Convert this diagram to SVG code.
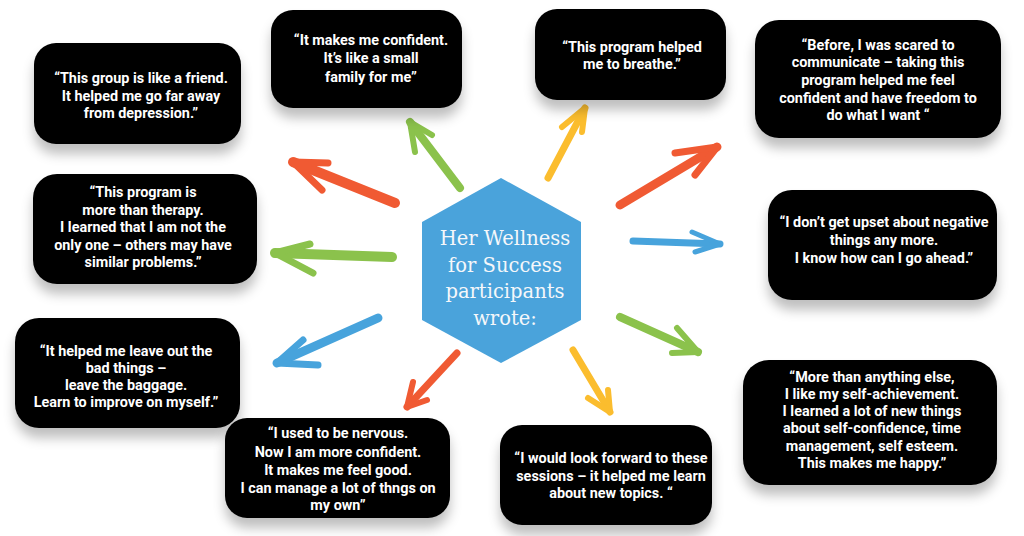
<svg xmlns="http://www.w3.org/2000/svg" width="1024" height="536" viewBox="0 0 1024 536">
<defs>
<filter id="sh" x="-20%" y="-20%" width="140%" height="160%">
<feGaussianBlur in="SourceAlpha" stdDeviation="6"/>
<feOffset dx="0" dy="10" result="b"/>
<feFlood flood-color="#000" flood-opacity="0.25"/>
<feComposite in2="b" operator="in"/>
<feMerge><feMergeNode/><feMergeNode in="SourceGraphic"/></feMerge>
</filter>
</defs>
<style>
.box{fill:#000;filter:url(#sh)}
.q{font-family:Roboto,"Liberation Sans",sans-serif;font-weight:700;font-size:15.5px;fill:#fff;text-anchor:middle}
.hub{fill:#4aa3db}
.ht{font-family:"DejaVu Serif","Liberation Serif",serif;font-size:19.5px;fill:#f5f7fa;text-anchor:middle}
.a{fill:none;stroke-linecap:round;stroke-linejoin:round}
.r{stroke:#f05a33}.g{stroke:#8bc24c}.y{stroke:#fbbd2e}.b{stroke:#47a3dc}
</style>
<rect width="1024" height="536" fill="#fff"/>
<g id="connectors">
<path class="a g" stroke-width="8" d="M460 188 L410 122"/><path class="a g" stroke-width="6" d="M415 152 L410 122 L432 135"/>
<path class="a y" stroke-width="7" d="M548 178 L585 108"/><path class="a y" stroke-width="6" d="M562 127 L585 108 L582 132"/>
<path class="a r" stroke-width="9" d="M620 205 L717 147"/><path class="a r" stroke-width="7" d="M675 153 L717 147 L695 175"/>
<path class="a b" stroke-width="7" d="M633 241 L720 244"/><path class="a b" stroke-width="5" d="M692 232 L720 244 L695 252"/>
<path class="a g" stroke-width="8" d="M620 317 L698 352"/><path class="a g" stroke-width="6" d="M677 328 L698 352 L672 353"/>
<path class="a y" stroke-width="7" d="M573 350 L610 412"/><path class="a y" stroke-width="6" d="M608 390 L610 412 L588 398"/>
<path class="a r" stroke-width="7" d="M457 353 L407 407"/><path class="a r" stroke-width="6" d="M413 382 L407 407 L427 400"/>
<path class="a b" stroke-width="9" d="M378 318 L277 363"/><path class="a b" stroke-width="7" d="M303 340 L277 363 L318 365"/>
<path class="a g" stroke-width="10" d="M392 257 L275 253"/><path class="a g" stroke-width="7" d="M310 244 L275 253 L313 273"/>
<path class="a r" stroke-width="10" d="M395 203 L293 162"/><path class="a r" stroke-width="7" d="M328 163 L293 162 L322 190"/>
</g>
<g id="hub">
<polygon class="hub" points="501,178 581,222 581,320 501,363 422,320 422,222"/>
<text class="ht" x="505" y="245">Her Wellness</text>
<text class="ht" x="505" y="272">for Success</text>
<text class="ht" x="505" y="298">participants</text>
<text class="ht" x="505" y="325">wrote:</text>
</g>
<g id="n1">
<rect class="box" x="34" y="43" width="207" height="101" rx="22"/>
<g transform="translate(141,0) scale(0.93,1)"><text class="q" x="0" y="83">“This group is like a friend.</text><text class="q" x="0" y="101">It helped me go far away</text><text class="q" x="0" y="118">from depression.”</text></g>
</g>
<g id="n2">
<rect class="box" x="271" y="10" width="191" height="98" rx="22"/>
<g transform="translate(371,0) scale(0.93,1)"><text class="q" x="0" y="45">“It makes me confident.</text><text class="q" x="0" y="63">It’s like a small</text><text class="q" x="0" y="82">family for me”</text></g>
</g>
<g id="n3">
<rect class="box" x="535" y="9" width="191" height="91" rx="22"/>
<g transform="translate(632,0) scale(0.93,1)"><text class="q" x="0" y="52">“This program helped</text><text class="q" x="0" y="69">me to breathe.”</text></g>
</g>
<g id="n4">
<rect class="box" x="755" y="20" width="246" height="118" rx="24"/>
<g transform="translate(878,0) scale(0.93,1)"><text class="q" x="0" y="50">“Before, I was scared to</text><text class="q" x="0" y="67">communicate – taking this</text><text class="q" x="0" y="85">program helped me feel</text><text class="q" x="0" y="103">confident and have freedom to</text><text class="q" x="0" y="120">do what I want “</text></g>
</g>
<g id="n5">
<rect class="box" x="33" y="174" width="224" height="110" rx="24"/>
<g transform="translate(143,0) scale(0.93,1)"><text class="q" x="0" y="197">“This program is</text><text class="q" x="0" y="215">more than therapy.</text><text class="q" x="0" y="232">I learned that I am not the</text><text class="q" x="0" y="250">only one – others may have</text><text class="q" x="0" y="267">similar problems.”</text></g>
</g>
<g id="n6">
<rect class="box" x="768" y="190" width="229" height="110" rx="24"/>
<g transform="translate(884,0) scale(0.93,1)"><text class="q" x="0" y="227">“I don’t get upset about negative</text><text class="q" x="0" y="245">things any more.</text><text class="q" x="0" y="263"> I know how can I go ahead.”</text></g>
</g>
<g id="n7">
<rect class="box" x="15" y="318" width="225" height="110" rx="24"/>
<g transform="translate(126,0) scale(0.93,1)"><text class="q" x="0" y="356">“It helped me leave out the</text><text class="q" x="0" y="373">bad things –</text><text class="q" x="0" y="390">leave the baggage.</text><text class="q" x="0" y="407">Learn to improve on myself.”</text></g>
</g>
<g id="n8">
<rect class="box" x="225" y="418" width="225" height="100" rx="22"/>
<g transform="translate(338,0) scale(0.93,1)"><text class="q" x="0" y="438">“I used to be nervous.</text><text class="q" x="0" y="457">Now I am more confident.</text><text class="q" x="0" y="475">It makes me feel good.</text><text class="q" x="0" y="493">I can manage a lot of thngs on</text><text class="q" x="0" y="510">my own”</text></g>
</g>
<g id="n9">
<rect class="box" x="500" y="425" width="212" height="100" rx="22"/>
<g transform="translate(611,0) scale(0.93,1)"><text class="q" x="0" y="463">“I would look forward to these</text><text class="q" x="0" y="481">sessions – it helped me learn</text><text class="q" x="0" y="498">about new topics. “</text></g>
</g>
<g id="n10">
<rect class="box" x="743" y="360" width="254" height="125" rx="26"/>
<g transform="translate(872,0) scale(0.93,1)"><text class="q" x="0" y="382">“More than anything else,</text><text class="q" x="0" y="399">I like my self-achievement.</text><text class="q" x="0" y="416"> I learned a lot of new things</text><text class="q" x="0" y="433">about self-confidence, time</text><text class="q" x="0" y="451">management, self esteem.</text><text class="q" x="0" y="468">This makes me happy.”</text></g>
</g>
</svg>
